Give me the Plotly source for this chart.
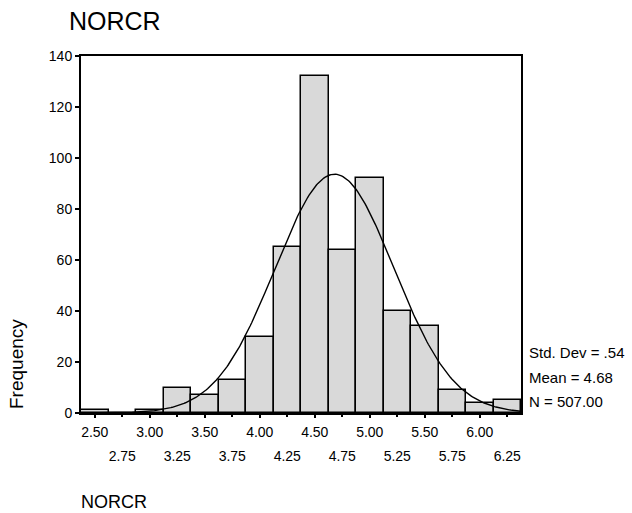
import numpy as np
import plotly.graph_objects as go

# Data
bin_centers = [2.50, 2.75, 3.00, 3.25, 3.50, 3.75, 4.00, 4.25, 4.50, 4.75, 5.00, 5.25, 5.50, 5.75, 6.00, 6.25]
counts = [1, 0, 1, 10, 7, 13, 30, 65, 132, 64, 92, 40, 34, 9, 4, 5]
bin_width = 0.25
mean_val = 4.68
std_dev = 0.54
n_total = 507
upper_labels = ["2.50", "3.00", "3.50", "4.00", "4.50", "5.00", "5.50", "6.00"]
lower_labels = ["2.75", "3.25", "3.75", "4.25", "4.75", "5.25", "5.75", "6.25"]
y_ticks = [0, 20, 40, 60, 80, 100, 120, 140]

FONT = "Arial, Liberation Sans, sans-serif"

# Fitted normal curve (as drawn by the original: N * binwidth * pdf)
xs = np.linspace(2.375, 6.375, 300)
ys = n_total * bin_width / (std_dev * np.sqrt(2 * np.pi)) * np.exp(-0.5 * ((xs - mean_val) / std_dev) ** 2)

fig = go.Figure()
fig.add_trace(go.Bar(
    x=bin_centers, y=counts, width=bin_width,
    marker=dict(color="#d9d9d9", line=dict(color="black", width=1.5)),
    showlegend=False, hoverinfo="x+y",
))
fig.add_trace(go.Scatter(
    x=xs, y=ys, mode="lines", line=dict(color="black", width=1.4),
    showlegend=False, hoverinfo="skip",
))
fig.add_trace(go.Scatter(x=[bin_centers[0]], y=[0], xaxis="x2", mode="markers",
                         marker=dict(opacity=0), showlegend=False, hoverinfo="skip"))

PLOT_TOP, PLOT_BOT = 56, 413
def py(pix):
    return (PLOT_BOT - pix) / (PLOT_BOT - PLOT_TOP)

fig.update_layout(
    width=632, height=513,
    margin=dict(l=81, r=111, t=56, b=100),
    paper_bgcolor="white", plot_bgcolor="white",
    font=dict(family=FONT, color="black", size=14),
    bargap=0,
    xaxis=dict(
        range=[2.375, 6.375], showgrid=False, zeroline=False,
        showline=True, linecolor="black", linewidth=2, mirror=True,
        tickvals=bin_centers[0::2], ticktext=upper_labels,
        ticks="outside", ticklen=3, tickwidth=2, tickcolor="black",
        ticklabelstandoff=2,
        tickfont=dict(size=14, family=FONT),
    ),
    xaxis2=dict(
        range=[2.375, 6.375], overlaying="x", matches="x", side="bottom",
        showgrid=False, zeroline=False, showline=False,
        tickvals=bin_centers[1::2], ticktext=lower_labels,
        ticks="outside", ticklen=3, tickwidth=2, tickcolor="black",
        ticklabelstandoff=27,
        tickfont=dict(size=14, family=FONT),
    ),
    yaxis=dict(
        range=[0, 140], showgrid=False, zeroline=False,
        showline=True, linecolor="black", linewidth=2, mirror=True,
        tickvals=y_ticks, ticks="outside", ticklen=4, tickwidth=2, tickcolor="black",
        tickfont=dict(size=14, family=FONT),
    ),
    annotations=[
        dict(text="NORCR", xref="paper", yref="paper", x=(67 - 81) / 440, y=py(21),
             xanchor="left", yanchor="middle", showarrow=False,
             font=dict(size=25, family=FONT)),
        dict(text="Frequency", xref="paper", yref="paper", x=(16 - 81) / 440, y=py(364),
             xanchor="center", yanchor="middle", textangle=-90, showarrow=False,
             font=dict(size=19, family=FONT)),
        dict(text="NORCR", xref="paper", yref="paper", x=(79 - 81) / 440, y=py(502),
             xanchor="left", yanchor="middle", showarrow=False,
             font=dict(size=18, family=FONT)),
        dict(text="Std. Dev = .54", xref="paper", yref="paper", x=(527 - 81) / 440, y=py(352),
             xanchor="left", yanchor="middle", showarrow=False, font=dict(size=15, family=FONT)),
        dict(text="Mean = 4.68", xref="paper", yref="paper", x=(527 - 81) / 440, y=py(377),
             xanchor="left", yanchor="middle", showarrow=False, font=dict(size=15, family=FONT)),
        dict(text="N = 507.00", xref="paper", yref="paper", x=(527 - 81) / 440, y=py(401),
             xanchor="left", yanchor="middle", showarrow=False, font=dict(size=15, family=FONT)),
    ],
)

fig.write_html("out.html")
